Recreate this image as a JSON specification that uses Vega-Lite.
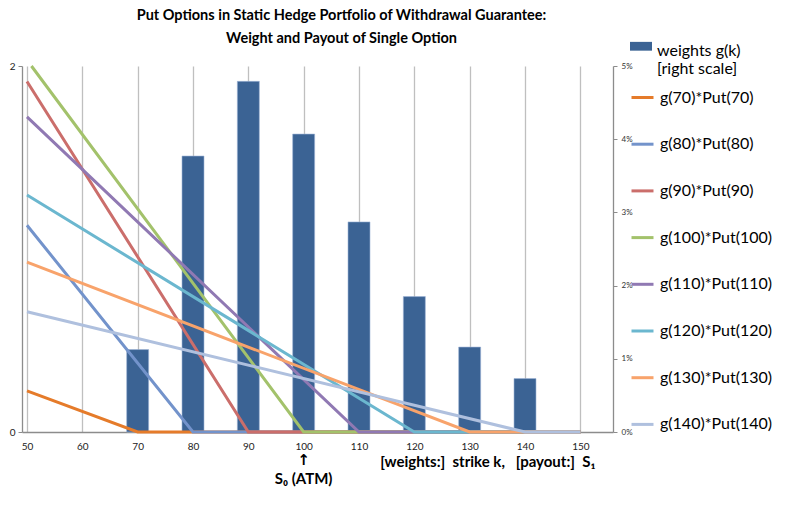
{
  "$schema": "https://vega.github.io/schema/vega-lite/v6.json",
  "width": 591,
  "height": 366,
  "autosize": "none",
  "padding": {"left": 22, "top": 66, "right": 172, "bottom": 91},
  "background": "white",
  "title": {
    "text": ["Put Options in Static Hedge Portfolio of Withdrawal Guarantee:", "Weight and Payout of Single Option"],
    "font": "Lato",
    "fontSize": 14.5,
    "fontWeight": "bold",
    "color": "#000000",
    "lineHeight": 23,
    "anchor": "middle",
    "frame": "group",
    "dx": 24,
    "offset": -6
  },
  "config": {
    "view": {"stroke": null}
  },
  "layer": [
    {
      "data": {
        "values": [
          {"strike": 70, "weight": 0.01126, "name": "weights g(k)"},
          {"strike": 80, "weight": 0.0377, "name": "weights g(k)"},
          {"strike": 90, "weight": 0.0479, "name": "weights g(k)"},
          {"strike": 100, "weight": 0.0407, "name": "weights g(k)"},
          {"strike": 110, "weight": 0.0287, "name": "weights g(k)"},
          {"strike": 120, "weight": 0.0185, "name": "weights g(k)"},
          {"strike": 130, "weight": 0.0116, "name": "weights g(k)"},
          {"strike": 140, "weight": 0.0073, "name": "weights g(k)"}
        ]
      },
      "mark": {"type": "bar", "size": 22, "stroke": "#9fb5d6", "strokeWidth": 0.6},
      "encoding": {
        "x": {
          "field": "strike",
          "type": "quantitative",
          "scale": {"domain": [50, 155], "nice": false, "zero": false},
          "axis": {
            "values": [50, 60, 70, 80, 90, 100, 110, 120, 130, 140, 150],
            "title": "[weights:]\u00a0\u00a0strike k,\u00a0\u00a0\u00a0[payout:]\u00a0\u00a0S₁",
            "titleFont": "Lato",
            "titleFontSize": 15,
            "titleFontWeight": "bold",
            "titleColor": "#000000",
            "titleAnchor": "end",
            "titleX": 573,
            "titleY": 22,
            "titleBaseline": "top",
            "grid": true,
            "gridColor": "#BFBFBF",
            "gridWidth": 1.3,
            "ticks": false,
            "domainColor": "#8C8C8C",
            "domainWidth": 1.3,
            "labelFont": "Lato",
            "labelFontSize": 10,
            "labelColor": "#222222",
            "labelPadding": 9
          }
        },
        "y": {
          "field": "weight",
          "type": "quantitative",
          "scale": {"domain": [0, 0.05], "nice": false},
          "axis": {
            "orient": "right",
            "values": [0, 0.01, 0.02, 0.03, 0.04, 0.05],
            "format": ".0%",
            "title": null,
            "grid": false,
            "domainColor": "#8C8C8C",
            "domainWidth": 1.3,
            "tickColor": "#8C8C8C",
            "tickSize": 4,
            "labelFont": "Lato",
            "labelFontSize": 8,
            "labelColor": "#333333",
            "labelPadding": 4
          }
        },
        "fill": {
          "field": "name",
          "type": "nominal",
          "scale": {"range": ["#3B6394"]},
          "legend": {
            "orient": "none",
            "legendX": 608,
            "legendY": -26,
            "title": null,
            "symbolType": "M-1,-0.83H1V-0.03H-1Z",
            "symbolSize": 484,
            "symbolStrokeWidth": 0,
            "labelExpr": "['weights g(k)', '[right scale]']",
            "labelFont": "Lato",
            "labelFontSize": 16,
            "labelColor": "#000000",
            "labelOffset": 5,
            "labelBaseline": "middle",
            "encode": {"labels": {"update": {"lineHeight": {"value": 21}}}}
          }
        }
      }
    },
    {
      "data": {
        "values": [
          {"series": "g(70)*Put(70)", "S": 50, "payout": 0.225},
          {"series": "g(70)*Put(70)", "S": 70, "payout": 0},
          {"series": "g(70)*Put(70)", "S": 150, "payout": 0},
          {"series": "g(80)*Put(80)", "S": 50, "payout": 1.13},
          {"series": "g(80)*Put(80)", "S": 80, "payout": 0},
          {"series": "g(80)*Put(80)", "S": 150, "payout": 0},
          {"series": "g(90)*Put(90)", "S": 50, "payout": 1.915},
          {"series": "g(90)*Put(90)", "S": 90, "payout": 0},
          {"series": "g(90)*Put(90)", "S": 150, "payout": 0},
          {"series": "g(100)*Put(100)", "S": 50.8, "payout": 2.0},
          {"series": "g(100)*Put(100)", "S": 100, "payout": 0},
          {"series": "g(100)*Put(100)", "S": 150, "payout": 0},
          {"series": "g(110)*Put(110)", "S": 50, "payout": 1.722},
          {"series": "g(110)*Put(110)", "S": 110, "payout": 0},
          {"series": "g(110)*Put(110)", "S": 150, "payout": 0},
          {"series": "g(120)*Put(120)", "S": 50, "payout": 1.295},
          {"series": "g(120)*Put(120)", "S": 120, "payout": 0},
          {"series": "g(120)*Put(120)", "S": 150, "payout": 0},
          {"series": "g(130)*Put(130)", "S": 50, "payout": 0.928},
          {"series": "g(130)*Put(130)", "S": 130, "payout": 0},
          {"series": "g(130)*Put(130)", "S": 150, "payout": 0},
          {"series": "g(140)*Put(140)", "S": 50, "payout": 0.657},
          {"series": "g(140)*Put(140)", "S": 140, "payout": 0},
          {"series": "g(140)*Put(140)", "S": 150, "payout": 0}
        ]
      },
      "layer": [
        {
          "mark": {"type": "line", "strokeWidth": 3},
          "encoding": {
            "x": {"field": "S", "type": "quantitative"},
            "y": {
              "field": "payout",
              "type": "quantitative",
              "scale": {"domain": [0, 2], "nice": false},
              "axis": {
                "orient": "left",
                "values": [0, 1, 2],
                "format": "d",
                "title": null,
                "grid": false,
                "domainColor": "#8C8C8C",
                "domainWidth": 1.3,
                "tickColor": "#8C8C8C",
                "tickSize": 4,
                "labelFont": "Lato",
                "labelFontSize": 10,
                "labelColor": "#222222",
                "labelPadding": 3
              }
            },
            "stroke": {
              "field": "series",
              "type": "nominal",
              "scale": {
                "domain": ["g(70)*Put(70)", "g(80)*Put(80)", "g(90)*Put(90)", "g(100)*Put(100)", "g(110)*Put(110)", "g(120)*Put(120)", "g(130)*Put(130)", "g(140)*Put(140)"],
                "range": ["#E57B2A", "#7393CB", "#CB6E6B", "#A3C26B", "#9079B3", "#6BB7CF", "#F8A36B", "#AFC0DE"]
              },
              "legend": {
                "orient": "none",
                "legendX": 608,
                "legendY": 19,
                "title": null,
                "symbolType": "stroke",
                "symbolSize": 484,
                "symbolStrokeWidth": 3,
                "rowPadding": 25.7,
                "labelFont": "Lato",
                "labelFontSize": 16,
                "labelColor": "#000000",
                "labelOffset": 5
              }
            }
          }
        },
        {
          "data": {"values": [{"label": "↑"}]},
          "mark": {"type": "text", "font": "DejaVu Sans", "fontSize": 15, "fontWeight": "bold", "color": "#000000", "baseline": "middle"},
          "encoding": {
            "x": {"datum": 100},
            "y": {"datum": -0.152},
            "text": {"field": "label"}
          }
        },
        {
          "data": {"values": [{"label": "S₀ (ATM)"}]},
          "mark": {"type": "text", "font": "Lato", "fontSize": 15, "fontWeight": "bold", "color": "#000000", "baseline": "middle"},
          "encoding": {
            "x": {"datum": 100},
            "y": {"datum": -0.257},
            "text": {"field": "label"}
          }
        }
      ]
    }
  ],
  "resolve": {"scale": {"y": "independent"}}
}
